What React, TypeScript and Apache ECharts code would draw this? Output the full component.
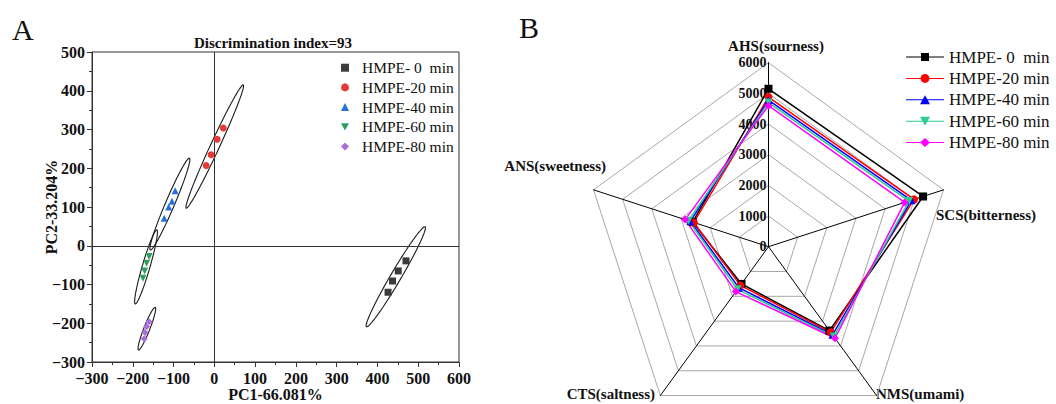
import React, { useEffect, useRef } from "react";
import * as echarts from "echarts";

// ---------- Data (Panel A: PCA scores) ----------
const groups = ["HMPE- 0  min", "HMPE-20 min", "HMPE-40 min", "HMPE-60 min", "HMPE-80 min"];
const pc1Scores = [
  [470, 451, 437, 426],
  [-20, -8, 7, 22],
  [-96, -104, -112, -123],
  [-160, -166, -171, -175],
  [-160, -166, -170, -172],
];
const pc2Scores = [
  [-39, -65, -91, -120],
  [207, 235, 275, 304],
  [142, 115, 100, 71],
  [-28, -45, -65, -84],
  [-196, -209, -224, -240],
];
// confidence ellipses: major-axis end points (PC1, PC2) and minor/major ratio
const ellipseStart = [[373, -209], [-69, 97], [-157, -11], [-194, -150], [-186, -269]];
const ellipseEnd = [[517, 49], [71, 415], [-61, 226], [-141, 41], [-145, -159]];
const ellipseRatio = [0.09, 0.066, 0.09, 0.1, 0.13];
const xTicks = { min: -300, max: 600, step: 100 };
const yTicks = { min: -300, max: 500, step: 100 };

// ---------- Data (Panel B: e-tongue radar) ----------
const indicatorNames = ["AHS(sourness)", "ANS(sweetness)", "CTS(saltness)", "NMS(umami)", "SCS(bitterness)"];
const radarMax = 6000;
// values in indicator order: AHS, ANS, CTS, NMS, SCS
const radarValues = [
  [5150, 2600, 1500, 3380, 5300],
  [4880, 2560, 1560, 3450, 4990],
  [4780, 2680, 1650, 3550, 4900],
  [4700, 2740, 1720, 3620, 4820],
  [4600, 2860, 1810, 3690, 4670],
];

// ---------- Styles ----------
const FONT = '"Liberation Serif", "Times New Roman", serif';
const pcaColors = ["#3b3b3b", "#e8393a", "#2470dc", "#2e9d5e", "#a86fd9"];
const radarColors = ["#000000", "#ff0000", "#0000ff", "#2fcc8f", "#ff00ff"];
const DOWN_TRI = "path://M0,0 L10,0 L5,9 Z";
const pcaSymbols = ["rect", "circle", "triangle", DOWN_TRI, "diamond"];
const radarSymbols = ["rect", "circle", "triangle", DOWN_TRI, "diamond"];
const LINE = "M0,4 H38 V5 H0 Z ";
const radarLegendIcons = [
  "path://" + LINE + "M15,0.5 H23 V8.5 H15 Z",
  "path://" + LINE + "M14.5,4.5 A4.5,4.5 0 1,1 23.5,4.5 A4.5,4.5 0 1,1 14.5,4.5 Z",
  "path://" + LINE + "M19,0 L24,9 L14,9 Z",
  "path://" + LINE + "M14,0 L24,0 L19,9 Z",
  "path://" + LINE + "M19,0 L24,4.5 L19,9 L14,4.5 Z",
];
const nameLayout = [
  { x: 776, y: 46, align: "center" },
  { x: 606, y: 166, align: "right" },
  { x: 655, y: 394, align: "right" },
  { x: 876, y: 394, align: "left" },
  { x: 936, y: 215, align: "left" },
];
const B_PREFIX = "B|";

function fmtMinus(v: number) {
  return v < 0 ? "\u2212" + Math.abs(v) : String(v);
}

export default function App() {
  const ref = useRef<HTMLDivElement>(null);
  useEffect(() => {
    if (!ref.current) return;
    const chart = echarts.init(ref.current, null, { renderer: "svg" });

    const scatterSeries = groups.map((g, i) => ({
      type: "scatter",
      name: g,
      xAxisIndex: 0,
      yAxisIndex: 0,
      symbol: pcaSymbols[i],
      symbolSize: 7,
      itemStyle: { color: pcaColors[i], opacity: 1 },
      z: 5,
      data: pc1Scores[i].map((x, k) => [x, pc2Scores[i][k]]),
    }));

    const ellipseSeries = {
      type: "custom",
      coordinateSystem: "cartesian2d",
      xAxisIndex: 0,
      yAxisIndex: 0,
      silent: true,
      z: 2,
      data: ellipseStart.map((s, i) => [s[0], s[1], ellipseEnd[i][0], ellipseEnd[i][1], ellipseRatio[i]]),
      encode: { x: [0, 2], y: [1, 3] },
      renderItem: (params: any, api: any) => {
        const p1 = api.coord([api.value(0), api.value(1)]);
        const p2 = api.coord([api.value(2), api.value(3)]);
        const cx = (p1[0] + p2[0]) / 2;
        const cy = (p1[1] + p2[1]) / 2;
        const dx = p2[0] - p1[0];
        const dy = p2[1] - p1[1];
        const len = Math.hypot(dx, dy);
        const a = len / 2;
        const b = a * api.value(4);
        const ux = dx / len, uy = dy / len;
        const px = -uy, py = ux;
        const pts: number[][] = [];
        const N = 120;
        for (let k = 0; k < N; k++) {
          const t = (k / N) * Math.PI * 2;
          const u = a * Math.cos(t), v = b * Math.sin(t);
          pts.push([cx + u * ux + v * px, cy + u * uy + v * py]);
        }
        return {
          type: "polygon",
          shape: { points: pts },
          style: { fill: "none", stroke: "#1a1a1a", lineWidth: 1.1 },
        };
      },
      markLine: {
        silent: true,
        symbol: ["none", "none"],
        label: { show: false },
        lineStyle: { color: "#333", type: "solid", width: 1 },
        data: [{ xAxis: 0 }, { yAxis: 0 }],
      },
    };

    const radarSeries = groups.map((g, i) => ({
      type: "radar",
      radarIndex: 0,
      z: 5,
      symbol: radarSymbols[i],
      symbolSize: 8,
      itemStyle: { color: radarColors[i], borderWidth: 0 },
      lineStyle: { color: radarColors[i], width: 1.5 },
      data: [
        {
          name: B_PREFIX + g,
          value: radarValues[i],
          symbol: radarSymbols[i],
          itemStyle: { color: radarColors[i], borderWidth: 0 },
        },
      ],
    }));

    const axisLabelStyle = {
      fontFamily: FONT,
      fontWeight: "bold",
      fontSize: 16,
      color: "#111",
    };

    const option: any = {
      animation: false,
      backgroundColor: "#ffffff",
      grid: {
        left: 92,
        top: 52,
        width: 367,
        height: 310,
        show: true,
        borderColor: "#333",
        borderWidth: 1,
        backgroundColor: "transparent",
        containLabel: false,
        outerBoundsMode: "none",
      },
      xAxis: {
        type: "value",
        min: xTicks.min,
        max: xTicks.max,
        interval: xTicks.step,
        axisLine: { show: true, onZero: false, lineStyle: { color: "#333", width: 1 } },
        axisTick: { show: true, inside: false, length: 5, lineStyle: { color: "#333" } },
        minorTick: { show: true, splitNumber: 2, length: 3, lineStyle: { color: "#333" } },
        splitLine: { show: false },
        axisLabel: { ...axisLabelStyle, margin: 8, formatter: fmtMinus },
        name: "PC1-66.081%",
        nameLocation: "middle",
        nameGap: 24,
        nameMoveOverlap: false,
        nameTextStyle: { fontFamily: FONT, fontWeight: "bold", fontSize: 16, color: "#111" },
      },
      yAxis: {
        type: "value",
        min: yTicks.min,
        max: yTicks.max,
        interval: yTicks.step,
        axisLine: { show: true, onZero: false, lineStyle: { color: "#333", width: 1 } },
        axisTick: { show: true, inside: false, length: 5, lineStyle: { color: "#333" } },
        minorTick: { show: true, splitNumber: 2, length: 3, lineStyle: { color: "#333" } },
        splitLine: { show: false },
        axisLabel: { ...axisLabelStyle, margin: 7, formatter: fmtMinus },
        name: "PC2-33.204%",
        nameLocation: "middle",
        nameGap: 33,
        nameMoveOverlap: false,
        nameTextStyle: { fontFamily: FONT, fontWeight: "bold", fontSize: 16, color: "#111" },
      },
      radar: {
        center: [768.5, 246.7],
        radius: 184,
        startAngle: 90,
        splitNumber: 6,
        shape: "polygon",
        axisName: { show: false },
        axisLine: { lineStyle: { color: "#000", width: 1 } },
        splitLine: { lineStyle: { color: "#a8a8a8", width: 1 } },
        splitArea: { show: false },
        axisTick: { show: false },
        axisLabel: { show: false },
        indicator: indicatorNames.map((n, i) => ({
          name: n,
          min: 0,
          max: radarMax,
          ...(i === 0
            ? {
                axisLabel: {
                  show: true,
                  fontFamily: FONT,
                  fontWeight: "bold",
                  fontSize: 14,
                  color: "#111",
                  margin: 2,
                  formatter: (v: number) => String(v),
                },
              }
            : {}),
        })),
      },
      legend: [
        {
          orient: "vertical",
          left: 341,
          top: 59.7,
          padding: 0,
          itemWidth: 8,
          itemHeight: 8,
          itemGap: 3.7,
          selectedMode: false,
          data: groups,
          textStyle: {
            fontFamily: FONT,
            fontSize: 15.5,
            color: "#111",
            lineHeight: 16,
            padding: [0, 0, 0, 8],
          },
        },
        {
          orient: "vertical",
          left: 906,
          top: 48.5,
          padding: 0,
          itemWidth: 38,
          itemHeight: 9,
          itemGap: 4.4,
          selectedMode: false,
          data: groups.map((g, i) => ({ name: B_PREFIX + g, icon: radarLegendIcons[i] })),
          formatter: (n: string) => n.slice(B_PREFIX.length),
          textStyle: { fontFamily: FONT, fontSize: 17, color: "#111", lineHeight: 17 },
        },
      ],
      graphic: [
        {
          type: "text",
          x: 12,
          y: 14,
          style: { text: "A", font: `30px ${FONT}`, fill: "#111" },
        },
        {
          type: "text",
          x: 519,
          y: 12,
          style: { text: "B", font: `30px ${FONT}`, fill: "#111" },
        },
        {
          type: "text",
          x: 273,
          y: 42.5,
          style: {
            text: "Discrimination index=93",
            font: `bold 15px ${FONT}`,
            fill: "#111",
            textAlign: "center",
            textVerticalAlign: "middle",
            verticalAlign: "middle",
          },
        },
        ...indicatorNames.map((n, i) => ({
          type: "text",
          x: nameLayout[i].x,
          y: nameLayout[i].y,
          style: {
            text: n,
            font: `bold 15px ${FONT}`,
            fill: "#111",
            textAlign: nameLayout[i].align,
            textVerticalAlign: "middle",
            verticalAlign: "middle",
          },
        })),
      ],
      series: [ellipseSeries, ...scatterSeries, ...radarSeries],
    };

    chart.setOption(option);
    return () => chart.dispose();
  }, []);

  return (
    <div
      ref={ref}
      style={{ position: "fixed", left: 0, top: 0, width: 1056, height: 404, background: "#fff" }}
    />
  );
}
